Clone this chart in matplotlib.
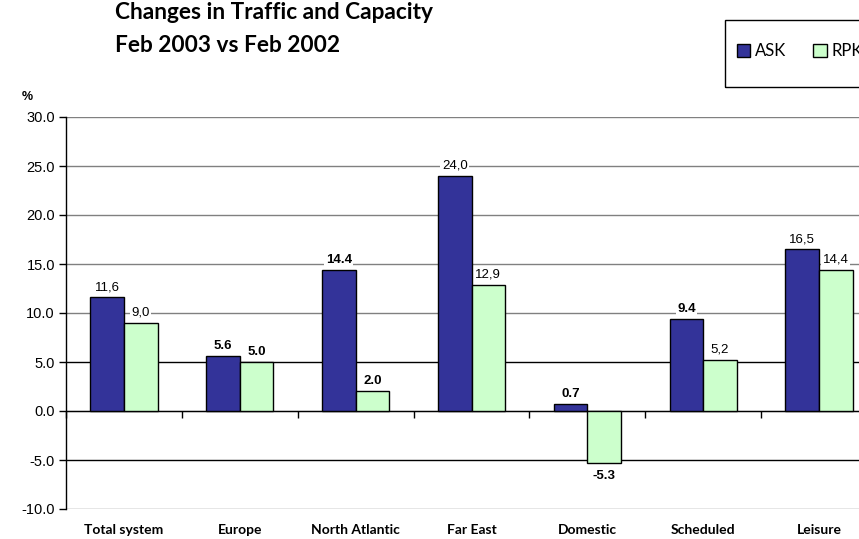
import matplotlib.pyplot as plt
from matplotlib.patches import Rectangle
import numpy as np

# data
categories = ['Total system', 'Europe', 'North Atlantic', 'Far East',
              'Domestic', 'Scheduled', 'Leisure']
ask = [11.6, 5.6, 14.4, 24.0, 0.7, 9.4, 16.5]
rpk = [9.0, 5.0, 2.0, 12.9, -5.3, 5.2, 14.4]
ask_labels = ['11,6', '5.6', '14.4', '24,0', '0.7', '9.4', '16,5']
rpk_labels = ['9,0', '5.0', '2.0', '12,9', '-5.3', '5,2', '14,4']
ask_bold = [False, True, True, False, True, True, False]
rpk_bold = [False, True, True, False, True, False, False]
y_ticks = [-10, -5, 0, 5, 10, 15, 20, 25, 30]

plt.rcParams['font.family'] = ['Liberation Sans', 'DejaVu Sans']

fig = plt.figure(figsize=(8.59, 5.39), dpi=100)
ax = fig.add_axes([66 / 859, 1 - 509 / 539, 811 / 859, 392 / 539])

x = np.arange(len(categories))
w = 0.29
ax.bar(x - w / 2, ask, w, color='#333399', edgecolor='black', linewidth=1,
       label='ASK', zorder=3)
ax.bar(x + w / 2, rpk, w, color='#CCFFCC', edgecolor='black', linewidth=1,
       label='RPK', zorder=3)

ax.set_xlim(-0.5, len(categories) - 0.5)
ax.set_ylim(-10, 30)
ax.set_yticks(y_ticks)
ax.set_yticklabels([f'{v:.1f}' for v in y_ticks], fontsize=10.5)

# gridlines (Excel style: some black, some grey)
for v in y_ticks:
    col = 'black' if v in (5, 0, -5) else '#808080'
    ax.axhline(v, color=col, linewidth=1, zorder=1)

for s in ['top', 'right']:
    ax.spines[s].set_visible(False)
ax.spines['bottom'].set_position(('data', 0))
ax.spines['left'].set_linewidth(1)

ax.set_xticks(np.arange(-0.5, len(categories), 1))
ax.set_xticklabels([])
ax.tick_params(axis='x', direction='out', length=5, width=1)
ax.tick_params(axis='y', direction='out', length=5, width=1, pad=3)

for i, cat in enumerate(categories):
    ax.text(i, -0.054, cat, transform=ax.get_xaxis_transform(),
            ha='center', va='center', fontsize=10, fontweight='bold',
            family='Lato')

def put_labels(xs, vals, labels, bold):
    for xi, v, lbl, b in zip(xs, vals, labels, bold):
        up = v >= 0
        ax.annotate(lbl, (xi, v), xytext=(0, 3 if up else -5),
                    textcoords='offset points', ha='center',
                    va='bottom' if up else 'top', fontsize=9.5,
                    fontweight='bold' if b else 'normal',
                    bbox=dict(facecolor='white', edgecolor='none', pad=1),
                    zorder=4)

put_labels(x - w / 2, ask, ask_labels, ask_bold)
put_labels(x + w / 2, rpk, rpk_labels, rpk_bold)

fig.text(22 / 859, 1 - 97 / 539, '%', fontsize=9, fontweight='bold',
         va='center', ha='left')

fig.text(115 / 859, 1 - 2 / 539,
         'Changes in Traffic and Capacity\nFeb 2003 vs Feb 2002',
         fontsize=16.3, fontweight='bold', family='Lato', va='top', ha='left',
         linespacing=1.7)

# legend box (frame drawn separately so it can be taller than its contents)
fig.patches.append(Rectangle((725 / 859, 1 - 87 / 539), 200 / 859, 67 / 539,
                             transform=fig.transFigure, fill=False,
                             edgecolor='black', linewidth=1))
leg = fig.legend(loc='center left', bbox_to_anchor=(737 / 859, 1 - 51 / 539),
                 ncol=2, frameon=False, prop={'family': 'Lato', 'size': 12},
                 handlelength=0.8, handleheight=0.8, handletextpad=0.3,
                 columnspacing=1.6, borderpad=0, borderaxespad=0)

fig.savefig('out.png', dpi=100)
